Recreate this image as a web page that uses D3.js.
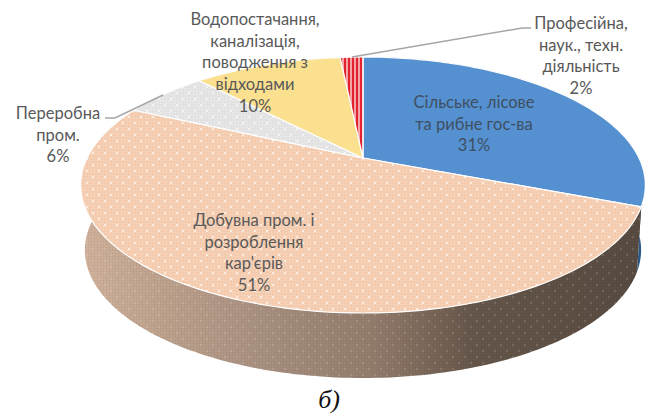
<!DOCTYPE html>
<html><head><meta charset="utf-8">
<script src="https://cdn.jsdelivr.net/npm/d3@7"></script>
<style>html,body{margin:0;padding:0;background:#fff}svg{display:block}</style>
</head><body><div id="c"></div>
<script>
const categories=["Сільське, лісове та рибне гос-ва","Добувна пром. і розроблення кар'єрів","Переробна пром.","Водопостачання, каналізація, поводження з відходами","Професійна, наук., техн. діяльність"];
const values=[31,51,6,10.4,1.6];
const labelLines=[["Сільське, лісове","та рибне гос-ва","31%"],["Добувна пром. і","розроблення","кар'єрів","51%"],["Переробна","пром.","6%"],["Водопостачання,","каналізація,","поводження з","відходами","10%"],["Професійна,","наук., техн.","діяльність","2%"]];
const W=645,H=414;
const svg=d3.select("#c").append("svg").attr("width",W).attr("height",H);
const defs=svg.append("defs");
function dots(id,base,fine,big){
  const p=defs.append("pattern").attr("id",id).attr("patternUnits","userSpaceOnUse").attr("width",12).attr("height",12);
  p.append("rect").attr("width",12).attr("height",12).attr("fill",base);
  for(let i=0;i<4;i++)for(let j=0;j<4;j++){
    p.append("circle").attr("cx",1.5+i*3).attr("cy",1.5+j*3).attr("r",.7).attr("fill",fine);
  }
  [[3,3],[9,9]].forEach(d=>p.append("circle").attr("cx",d[0]).attr("cy",d[1]).attr("r",1.2).attr("fill",big));
}
dots("pPeach","#f4cbae","#f8dcc8","#fdeee2");
dots("pGrey","#e2e2e2","#f0f0f0","#f4f4f4");
const st=defs.append("pattern").attr("id","pRed").attr("patternUnits","userSpaceOnUse").attr("width",4).attr("height",4);
st.append("rect").attr("width",4).attr("height",4).attr("fill","#f5a3a6");
st.append("rect").attr("width",2).attr("height",4).attr("fill","#e3222f");
const g=defs.append("linearGradient").attr("id","gSide").attr("gradientUnits","userSpaceOnUse").attr("x1",80).attr("x2",640).attr("y1",0).attr("y2",0);
[[0,"#d0b29b"],[.12,"#c0a48f"],[.32,"#a89080"],[.52,"#947c6c"],[.7,"#66564a"],[1,"#574a40"]].forEach(s=>g.append("stop").attr("offset",s[0]).attr("stop-color",s[1]));
const dotS=defs.append("pattern").attr("id","pSide").attr("patternUnits","userSpaceOnUse").attr("width",12).attr("height",12);
for(let i=0;i<4;i++)for(let j=0;j<4;j++)dotS.append("circle").attr("cx",1.5+i*3).attr("cy",1.5+j*3).attr("r",.7).attr("fill","#000").attr("fill-opacity",.08);
[[3,3],[9,9]].forEach(d=>dotS.append("circle").attr("cx",d[0]).attr("cy",d[1]).attr("r",1.2).attr("fill","#fff").attr("fill-opacity",.12));

const fills=["#5591d0","url(#pPeach)","url(#pGrey)","#fae08f","url(#pRed)"];
const sideFills=[["#2c5a88"],["url(#gSide)","url(#pSide)"],["#999"],["#a89560"],["#a33"]];
const textCols=["#3f4f63","#595959","#595959","#595959","#595959"];

// perspective disc projection
const cx=363,apexY=158,B=276,A=122.3,k=.211,depth=65,bottomScale=.985;
const proj=(a,level)=>{
  const u=Math.sin(a),v=-Math.cos(a),w=1-k*v;
  const s=level?bottomScale:1;
  return [cx+s*B*u/w, apexY+A*v/w+(level?depth:0)];
};
const arcs=d3.pie().sort(null)(values);
const line=d3.line();
const samples=(a0,a1,level)=>{
  const n=Math.max(4,Math.ceil((a1-a0)/.02));
  return d3.range(n+1).map(i=>proj(a0+(a1-a0)*i/n,level));
};
const sideG=svg.append("g"),topG=svg.append("g");
arcs.forEach((d,i)=>{
  const pts=samples(d.startAngle,d.endAngle,0).concat(samples(d.startAngle,d.endAngle,1).reverse());
  sideFills[i].forEach(f=>sideG.append("path").attr("d",line(pts)+"Z").attr("fill",f));
});
arcs.forEach((d,i)=>{
  const pts=[[cx,apexY]].concat(samples(d.startAngle,d.endAngle,0));
  topG.append("path").attr("d",line(pts)+"Z").attr("fill",fills[i]).attr("stroke","#fff").attr("stroke-width",1.2).attr("stroke-linejoin","round");
});
// leaders
const lead=[[[352,57],[522,28],[531,28]],[[163,95],[115,118],[105,118]]];
lead.forEach(l=>svg.append("path").attr("d",line(l)).attr("fill","none").attr("stroke","#a6a6a6").attr("stroke-width",1.5));
// labels
const pos=[[474,108],[254,226],[58,119],[255,25],[581,29]];
const font='"Lato","Carlito","Open Sans",sans-serif';
labelLines.forEach((ls,i)=>{
  const t=svg.append("text").attr("text-anchor","middle").attr("font-family",font).attr("font-size",16.5).attr("fill",textCols[i]);
  ls.forEach((s,j)=>t.append("tspan").attr("x",pos[i][0]).attr("y",pos[i][1]+j*21.7).text(s));
});
svg.append("text").attr("x",329).attr("y",408).attr("text-anchor","middle").attr("font-family",'"Liberation Serif",serif').attr("font-style","italic").attr("font-size",26).attr("fill","#111").text("б)");
</script></body></html>
